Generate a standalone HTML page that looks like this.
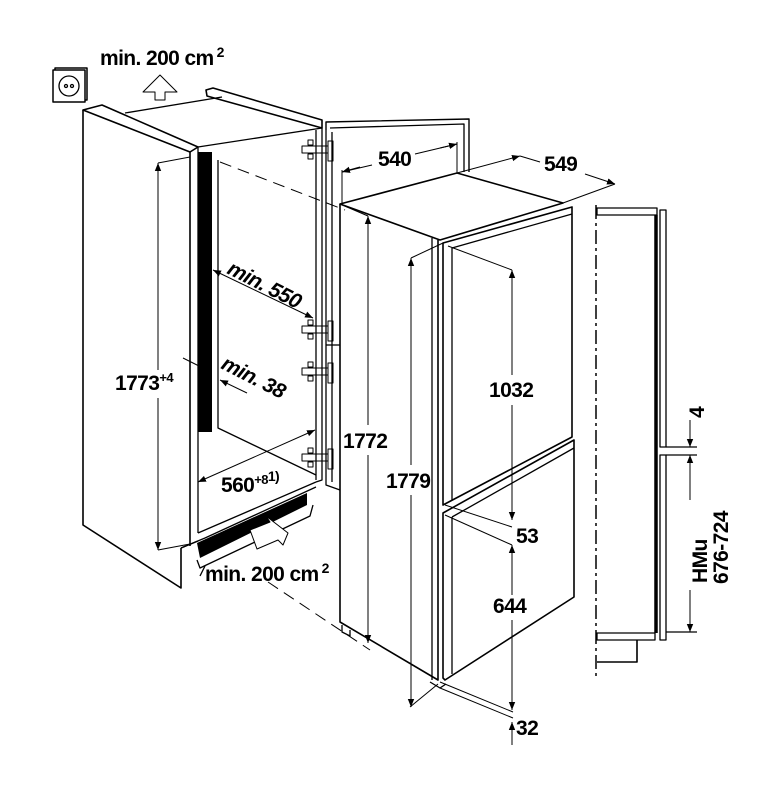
<!DOCTYPE html>
<html><head><meta charset="utf-8"><style>
html,body{margin:0;padding:0;background:#fff;}
svg{display:block}
text{font-family:"Liberation Sans",sans-serif;font-weight:bold;fill:#000;}
</style></head><body>
<svg width="779" height="795" viewBox="0 0 779 795" xmlns="http://www.w3.org/2000/svg">
<defs>
<marker id="a" viewBox="0 0 10 10" refX="10" refY="5" markerWidth="8" markerHeight="8" orient="auto-start-reverse" markerUnits="userSpaceOnUse"><path d="M0,1 L10,5 L0,9 z" fill="#000"/></marker>
</defs>
<g fill="none" stroke="#000" stroke-width="1.3" stroke-linejoin="round">
<rect x="55" y="68" width="32" height="32" fill="#fff" stroke-width="1.5"/>
<rect x="53" y="70" width="32" height="32" fill="#fff" stroke-width="1.5"/>
<circle cx="69" cy="86" r="10"/>
<circle cx="66" cy="86" r="1.5"/><circle cx="72" cy="86" r="1.5"/>
<path d="M155,100 L155,92 L143,92 L160,75 L177,92 L165,92 L165,100 Z" stroke-width="1"/>
<path d="M83,110 L83,525 L181,588 L181,548" stroke-width="1.6"/>
<path d="M83,110 L102,105 L198,147 L190,152 Z" stroke-width="1.6"/>
<path d="M190,152 L190,546" stroke-width="1.6"/>
<path d="M198,147 L198,533"/>
<path d="M125,113 L222,97"/>
<path d="M206,90 L213,88 L322,120 L322,128 L207,96 Z" stroke-width="1.6"/>
<path d="M198,147 L322,128"/>
<path d="M316,130 L316,480"/>
<path d="M322,128 L322,480 L316,482"/>
<rect x="198" y="152" width="14" height="280" fill="#000" stroke="none"/>
<path d="M218,160 L218,428 L316,475"/>
<path d="M198,533 L316,482"/>
<path d="M181,548 L205,538 L316,487"/>
<path d="M181,548 L198,541"/>
<path d="M197,543 L307,493 L307,505 L200,558 Z" fill="#000" stroke="none"/>
<path d="M197,560 L200,568 L310,516 L313,505"/>
<path d="M205,566 L200,576"/>
<path d="M250,530 L270,522 L266,516 L288,533 L283,545 L278,540 L257,549 Z" fill="#fff" stroke-width="1"/>
<path d="M220,162 L345,210" stroke-dasharray="12,7" stroke-width="1"/>
<path d="M268,582 L370,650" stroke-dasharray="12,7" stroke-width="1"/>
<path d="M326,130 L326,122 L469,119 L469,172" stroke-width="1.4"/>
<path d="M330,128 L464,124 L464,172"/>
<path d="M326,130 L326,485 L340,490"/>
<path d="M332,132 L332,482"/>
<path d="M326,345 L340,345"/>
<g stroke-width="1">
<g><rect x="302" y="146" width="26" height="7"/><rect x="308" y="140" width="5" height="5"/><rect x="308" y="154" width="5" height="5"/><rect x="328" y="141" width="5" height="20"/></g>
<g transform="translate(0,180)"><rect x="302" y="146" width="26" height="7"/><rect x="308" y="140" width="5" height="5"/><rect x="308" y="154" width="5" height="5"/><rect x="328" y="141" width="5" height="20"/></g>
<g transform="translate(0,222)"><rect x="302" y="146" width="26" height="7"/><rect x="308" y="140" width="5" height="5"/><rect x="308" y="154" width="5" height="5"/><rect x="328" y="141" width="5" height="20"/></g>
<g transform="translate(0,308)"><rect x="302" y="146" width="26" height="7"/><rect x="308" y="140" width="5" height="5"/><rect x="308" y="154" width="5" height="5"/><rect x="328" y="141" width="5" height="20"/></g>
</g>
<path d="M340,204 L457,173 L563,203 L440,240 Z" stroke-width="1.6"/>
<path d="M340,204 L340,622 L438,680 L438,240" stroke-width="1.6"/>
<path d="M432,238 L432,680"/>
<path d="M342,625 L342,632 L350,636 L350,630"/>
<path d="M430,682 L440,688 L446,684"/>
<path d="M443,243 L572,207 L572,437 L443,505 Z" stroke-width="1.6"/>
<path d="M452,248 L572,214"/>
<path d="M452,248 L452,500"/>
<path d="M443,513 L574,440 L574,597 L445,680 L443,678 Z" stroke-width="1.6"/>
<path d="M452,517 L574,448"/>
<path d="M452,517 L452,674"/>
<g stroke-width="1">
<path d="M342,204 L342,170 M457,173 L457,142"/>
<path d="M342,172 L372,165 M415,154 L457,144"/>
<path d="M342,172 L360,167" marker-start="url(#a)"/>
<path d="M440,148 L457,144" marker-end="url(#a)"/>
<path d="M457,173 L520,156" marker-end="url(#a)"/>
<path d="M520,156 L540,162"/>
<path d="M585,174 L615,184" marker-end="url(#a)"/>
<path d="M563,203 L615,184"/>
<path d="M340,204 L368,216"/>
<path d="M368,216 L368,425" marker-start="url(#a)"/>
<path d="M368,455 L368,643" marker-end="url(#a)"/>
<path d="M443,243 L411,258"/>
<path d="M411,258 L411,465" marker-start="url(#a)"/>
<path d="M411,495 L411,707" marker-end="url(#a)"/>
<path d="M410,707 L438,684"/>
<path d="M448,246 L512,270"/>
<path d="M512,270 L512,375" marker-start="url(#a)"/>
<path d="M512,405 L512,520" marker-end="url(#a)"/>
<path d="M445,505 L512,527 M445,515 L512,545"/>
<path d="M512,545 L512,595" marker-start="url(#a)"/>
<path d="M512,620 L512,710" marker-end="url(#a)"/>
<path d="M440,682 L513,712 M440,688 L513,718"/>
<path d="M512,745 L512,722" marker-end="url(#a)"/>
<path d="M158,163 L190,157"/>
<path d="M158,163 L158,370" marker-start="url(#a)"/>
<path d="M158,398 L158,550" marker-end="url(#a)"/>
<path d="M158,550 L190,544"/>
<path d="M213,270 L313,318" marker-start="url(#a)" marker-end="url(#a)"/>
<path d="M183,358 L211,372" marker-end="url(#a)"/>
<path d="M247,393 L220,380" marker-end="url(#a)"/>
<path d="M198,482 L315,430" marker-start="url(#a)" marker-end="url(#a)"/>
</g>
<path d="M596,205 L596,680" stroke-dasharray="14,4,3,4" stroke-width="1.5"/>
<rect x="597" y="208" width="60" height="7"/>
<path d="M656,215 L656,633" stroke-width="3.5"/>
<rect x="660" y="210" width="6" height="237"/>
<rect x="660" y="455" width="6" height="185"/>
<path d="M666,447 L697,447 M666,455 L697,455"/>
<rect x="597" y="633" width="58" height="7"/>
<path d="M637,640 L637,662 L597,662" stroke-width="1.6"/>
<path d="M666,632 L697,632"/>
<g stroke-width="1">
<path d="M690,420 L690,447" marker-end="url(#a)"/>
<path d="M690,500 L690,455" marker-end="url(#a)"/>
<path d="M690,590 L690,632" marker-end="url(#a)"/>
</g>
</g>
<g font-size="21" letter-spacing="-0.6">
<text x="100" y="65">min. 200 cm<tspan font-size="14" dx="3" dy="-8">2</tspan></text>
<text x="205" y="581">min. 200 cm<tspan font-size="14" dx="3" dy="-8">2</tspan></text>
<text x="115" y="390">1773<tspan font-size="13" dy="-8">+4</tspan></text>
<text x="221" y="492">560<tspan font-size="13" dy="-8">+8</tspan><tspan font-size="14" dy="-3">1)</tspan></text>
<text transform="translate(226,273) rotate(27)" font-style="italic">min. 550</text>
<text transform="translate(220,368) rotate(27)" font-style="italic">min. 38</text>
<text x="378" y="166">540</text>
<text x="544" y="171">549</text>
<text x="343" y="448">1772</text>
<text x="386" y="488">1779</text>
<text x="489" y="397">1032</text>
<text x="516" y="543">53</text>
<text x="493" y="613">644</text>
<text x="516" y="735">32</text>
<text transform="translate(704,418) rotate(-90)">4</text>
<text transform="translate(707,583) rotate(-90)">HMu</text>
<text transform="translate(728,584) rotate(-90)">676-724</text>
</g>
</svg>
</body></html>
